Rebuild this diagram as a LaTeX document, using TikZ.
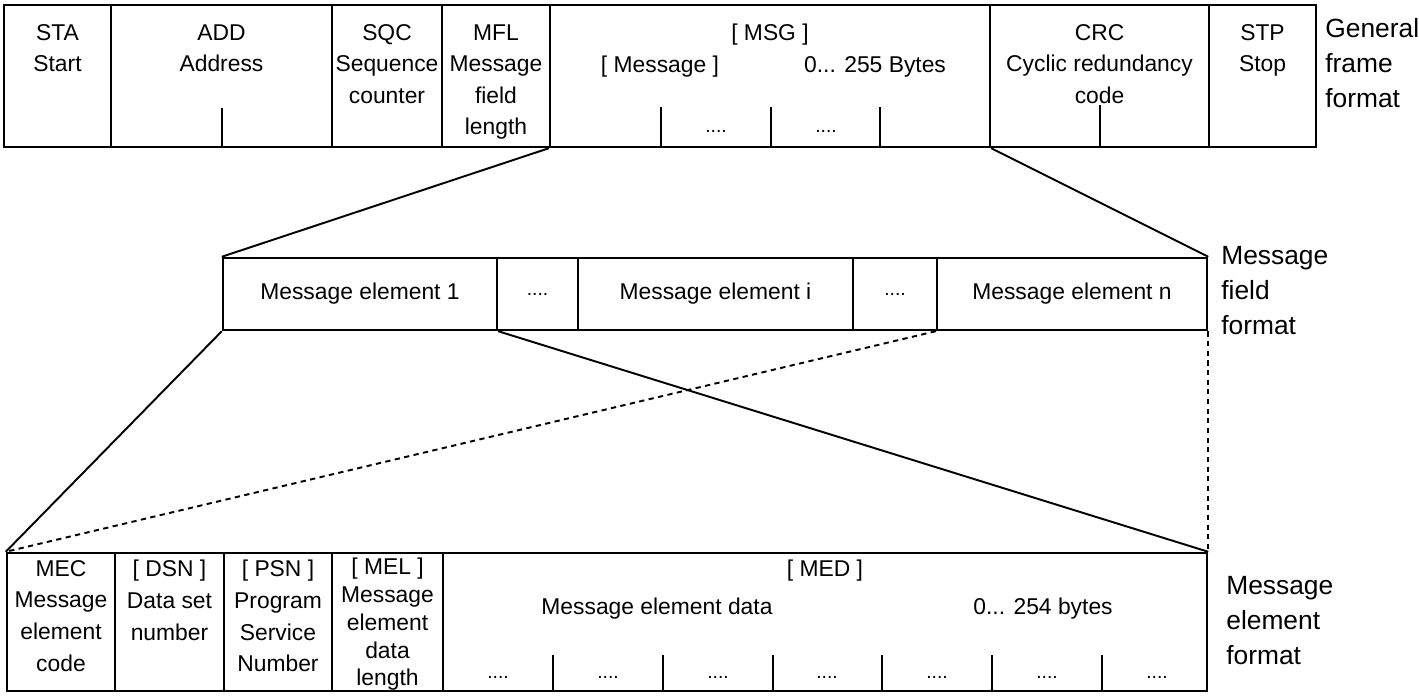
\documentclass[tikz,border=0pt]{standalone}
\usepackage{fontspec}
\setmainfont{Liberation Sans}
\usetikzlibrary{fit}

\begin{document}
\begin{tikzpicture}[
    x=0.02cm, y=-0.02cm,
    cell/.style={draw, line width=1.4pt, inner sep=0pt},
    txt/.style={anchor=north, inner sep=0pt, align=center, font=\fontsize{13}{18}\selectfont},
    mid/.style={inner sep=0pt, font=\fontsize{13}{18}\selectfont},
    dots/.style={inner sep=0pt, font=\fontsize{11}{13}\selectfont},
    fmt/.style={anchor=north west, inner sep=0pt, align=left, font=\fontsize{15}{19.8}\selectfont},
    zoom/.style={line width=1.1pt},
    ozoom/.style={line width=1.1pt, dash pattern=on 3pt off 2.5pt},
    tick/.style={line width=1.1pt}
]
\useasboundingbox (0,0) rectangle (1419,698);

\node[cell, fit={(4,5) (111,147)}] (sta) {};
\node[cell, fit={(111,5) (332,147)}] (add) {};
\node[cell, fit={(332,5) (442,147)}] (sqc) {};
\node[cell, fit={(442,5) (550,147)}] (mfl) {};
\node[cell, fit={(550,5) (990,147)}] (msg) {};
\node[cell, fit={(990,5) (1209,147)}] (crc) {};
\node[cell, fit={(1209,5) (1316,147)}] (stp) {};

\node[txt] (tsta) at (57.5,24) {STA\\Start};
\node[txt] (tadd) at (221.5,24) {ADD\\Address};
\node[txt] (tsqc) at (387,24) {SQC\\Sequence\\counter};
\node[txt] (tmfl) at (496,24) {MFL\\Message\\field\\length};
\node[txt] (tmsg) at (770,24) {[ MSG ]};
\node[txt] (tmsga) at (660,56) {[ Message ]};
\node[txt] (tmsgb) at (875,56) {0... 255 Bytes};
\node[txt] (tcrc) at (1099.5,24) {CRC\\Cyclic redundancy\\code};
\node[txt] (tstp) at (1262.5,24) {STP\\Stop};
\node[fmt] (fgen) at (1325,18) {General\\frame\\format};

\draw[tick] (222,108) -- (222,147);
\draw[tick] (661,107) -- (661,147);
\draw[tick] (771,107) -- (771,147);
\draw[tick] (880,107) -- (880,147);
\draw[tick] (1100,105) -- (1100,147);
\node[dots] (da) at (716,131) {....};
\node[dots] (db) at (826,131) {....};

\node[cell, fit={(223,258) (497,330)}] (me1) {};
\node[cell, fit={(497,258) (578,330)}] (mda) {};
\node[cell, fit={(578,258) (853,330)}] (mei) {};
\node[cell, fit={(853,258) (937,330)}] (mdb) {};
\node[cell, fit={(937,258) (1207,330)}] (men) {};
\node[mid] (tme1) at (me1.center) {Message element 1};
\node[dots] (tmda) at (mda.center) {....};
\node[mid] (tmei) at (mei.center) {Message element i};
\node[dots] (tmdb) at (mdb.center) {....};
\node[mid] (tmen) at (men.center) {Message element n};
\node[fmt] (ffld) at (1221,246) {Message\\field\\format};

\node[cell, fit={(7,553) (115,691)}] (mec) {};
\node[cell, fit={(115,553) (224,691)}] (dsn) {};
\node[cell, fit={(224,553) (332,691)}] (psn) {};
\node[cell, fit={(332,553) (443,691)}] (mel) {};
\node[cell, fit={(443,553) (1207,691)}] (med) {};

\node[txt] (tmec) at (61,560) {MEC\\Message\\element\\code};
\node[txt] (tdsn) at (169.5,560) {[ DSN ]\\Data set\\number};
\node[txt] (tpsn) at (278,560) {[ PSN ]\\Program\\Service\\Number};
\node[txt, font=\fontsize{13}{15.8}\selectfont] (tmel) at (387.5,558) {[ MEL ]\\Message\\element\\data\\length};
\node[txt] (tmed) at (825,560) {[ MED ]};
\node[txt] (tmeda) at (657,598) {Message element data};
\node[txt] (tmedb) at (1043,598) {0... 254 bytes};
\node[fmt] (fmel) at (1226,576) {Message\\element\\format};

\draw[tick] (553,655) -- (553,691);
\draw[tick] (663,655) -- (663,691);
\draw[tick] (773,655) -- (773,691);
\draw[tick] (882,655) -- (882,691);
\draw[tick] (992,655) -- (992,691);
\draw[tick] (1102,655) -- (1102,691);
\node[dots] (dc) at (498,677) {....};
\node[dots] (dd) at (608,677) {....};
\node[dots] (de) at (718,677) {....};
\node[dots] (df) at (827,677) {....};
\node[dots] (dg) at (937,677) {....};
\node[dots] (dh) at (1047,677) {....};
\node[dots] (di) at (1157,677) {....};

\draw[zoom] (msg.south west) -- (me1.north west);
\draw[zoom] (msg.south east) -- (men.north east);
\draw[zoom] (me1.south west) -- (mec.north west);
\draw[zoom] (me1.south east) -- (med.north east);
\draw[ozoom] (men.south west) -- (mec.north west);
\draw[ozoom] (men.south east) -- (med.north east);
\end{tikzpicture}
\end{document}
